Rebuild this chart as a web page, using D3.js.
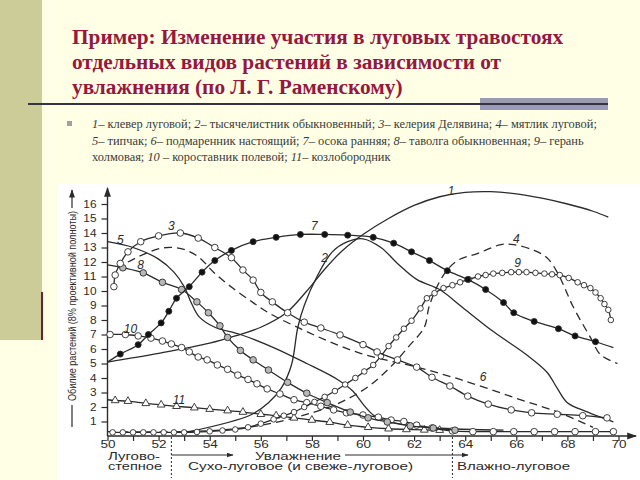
<!DOCTYPE html>
<html><head><meta charset="utf-8">
<script src="https://cdn.jsdelivr.net/npm/d3@7"></script>
<style>body{margin:0;background:#FFFFE6;overflow:hidden} svg{display:block}</style>
</head><body><svg id="c" width="640" height="480"></svg>
<script>
// ---------- texts ----------
const titleLines = [
  "Пример: Изменение участия в луговых травостоях",
  "отдельных видов растений в зависимости от",
  "увлажнения (по Л. Г. Раменскому)"
];
const legendLines = [
  [["1–",1],[" клевер луговой; ",0],["2–",1],[" тысячелистник обыкновенный; ",0],["3–",1],[" келерия Делявина; ",0],["4–",1],[" мятлик луговой;",0]],
  [["5–",1],[" типчак; ",0],["6–",1],[" подмаренник настоящий; ",0],["7–",1],[" осока ранняя; ",0],["8–",1],[" таволга обыкновенная; ",0],["9–",1],[" герань",0]],
  [["холмовая; ",0],["10",1],[" – короставник полевой; ",0],["11–",1],[" козлобородник",0]]
];
const yAxisTitle = "Обилие растений (8% проективной полноты)";
const xAxisTitle = "Увлажнение";
const zoneLabels = ["Лугово-", "степное", "Сухо-луговое (и свеже-луговое)", "Влажно-луговое"];
const zoneBounds = [52.5, 63.5];

// ---------- ticks ----------
const xTickLabels = [50,52,54,56,58,60,62,64,66,68,70];
const xMinorTicks = d3.range(50, 71, 1);
const yTickLabels = [1,2,3,4,5,6,7,8,9,10,11,12,13,14,15,16];

// ---------- series (x = moisture step, y = abundance); 3rd value 0 = no marker ----------
const s1 = [[50,5.1],[52,5.7],[54,6.4],[55,6.9],[56,7.5],[57,8.5],[57.8,10],[58.5,11.5],[59.2,12.8],[60,13.9],[61,15.0],[62,15.9],[63,16.5],[64,16.8],[65,16.85],[66,16.7],[67,16.4],[68,16.0],[69,15.5],[69.6,15.1]];
const s2 = [[53.2,0.3],[55.6,1.45],[56.3,2.3],[56.8,3.3],[57.2,4.9],[57.45,7.5],[57.7,9.0],[58.2,11.0],[58.8,12.7],[59.4,13.4],[60.0,13.6],[60.7,13.0],[61.35,11.9],[62.1,10.8],[63.0,10.1],[63.8,9.0],[65.1,7.2],[66.4,5.6],[67.2,4.4],[67.6,3.3],[68.0,2.3],[68.8,1.65],[69.8,0.97]];
const s3 = [[50.25,10.3],[50.3,11.1],[50.5,11.9],[50.8,12.7],[51.3,13.4],[52.0,13.8],[52.85,14.0],[53.55,13.65],[54.2,13.0],[54.85,12.3],[55.3,11.45],[55.7,10.75],[56.0,9.9],[56.45,9.25],[57.05,8.5],[57.7,7.85],[58.35,7.45],[59.1,6.97],[60.0,6.3],[60.55,5.8],[61.35,5.25],[62.1,4.75],[62.7,4.05],[63.4,3.45],[64.1,2.75],[64.9,2.2],[65.8,1.8],[66.6,1.6],[67.6,1.5],[68.6,1.4],[69.55,1.25]];
const s4 = [[50,0.3],[53,0.3],[55,0.5],[56.5,0.9],[58,1.6],[59.1,2.3],[60.2,3.4],[61.1,4.8],[61.8,6.2],[62.4,7.5],[62.6,9.0],[63.15,11.1],[63.7,12.1],[64.5,12.6],[65.4,13.2],[65.9,13.2],[66.7,12.8],[67.2,12.3],[67.6,11.3],[67.85,10.4],[68.2,9.0],[68.9,6.8],[69.3,5.6],[69.96,5.0]];
const s5 = [[50,13.4],[51,13.0],[52,12.2],[52.6,11.3],[53,10.3],[53.3,9.1],[53.6,8.2],[54.2,7.5],[55.2,7.0],[56.5,6.1],[57.8,5.0],[59,3.9],[59.6,3.1],[60,2.2],[60.4,1.45],[61,1.0],[62,0.7],[63.5,0.5],[65.5,0.4]];
const s6 = [[50.8,12.0],[51.5,12.6],[52.1,12.95],[52.6,13.0],[53.1,12.8],[53.6,12.3],[54.15,11.3],[54.9,10.2],[55.7,9.2],[56.3,8.5],[57.55,7.4],[58.7,6.5],[59.9,5.7],[61.0,5.2],[62.0,4.8],[63.8,3.9],[66.0,2.6],[67.7,1.6],[69.0,0.6]];
const s7 = [[50,5.1,0],[50.5,5.65],[51.2,6.3],[51.6,7.0],[52.1,7.8],[52.4,8.6],[52.7,9.5],[53.2,10.3],[53.7,11.3],[54.2,12.1],[54.85,12.8],[55.7,13.4],[56.6,13.7],[57.55,13.9],[58.5,13.9],[59.4,13.85],[60.4,13.7],[61.2,13.3],[61.9,12.7],[62.6,12.1],[63.3,11.4],[64.1,10.8],[64.8,10.1],[65.5,9.2],[65.9,8.5],[66.7,7.9],[67.65,7.4],[68.3,6.9],[69.1,6.5],[69.8,6.1,0]];
const s8 = [[50,11.8,0],[50.6,11.6],[51.4,11.25],[52.15,10.6],[52.9,10.1],[53.5,9.25],[53.95,8.5],[54.4,7.6],[54.7,6.8],[55.2,5.9],[55.7,5.25],[56.3,4.55],[57.05,3.7],[57.8,2.95],[58.6,2.3],[59.5,1.65],[60.2,1.25],[60.95,0.97],[61.85,0.7],[62.75,0.55],[63.6,0.4]];
const s9 = [[50.2,0.25],[50.6,0.25],[51.0,0.25],[51.4,0.25],[51.8,0.25],[52.2,0.25],[52.6,0.25],[53.0,0.25],[53.5,0.28],[54.0,0.32],[54.5,0.38],[55.0,0.45],[55.5,0.6],[56.0,0.85],[56.5,1.15],[56.9,1.4],[57.3,1.65],[57.7,2.0],[58.1,2.35],[58.5,2.7],[58.9,3.1],[59.3,3.55],[59.7,4.0],[60.05,4.45],[60.4,4.9],[60.7,5.5],[61.0,6.2],[61.3,6.8],[61.6,7.4],[61.9,7.95],[62.25,8.8],[62.5,9.5],[62.8,9.85],[63.15,10.2],[63.5,10.4],[63.8,10.6],[64.15,10.8],[64.5,11.0],[64.8,11.1],[65.1,11.2],[65.45,11.25],[65.8,11.3],[66.1,11.3],[66.4,11.3],[66.75,11.25],[67.1,11.2],[67.4,11.15],[67.7,11.1],[68.05,10.9],[68.4,10.6],[68.65,10.4],[68.9,10.2],[69.1,9.9],[69.3,9.5],[69.45,9.1],[69.6,8.7],[69.7,8.0]];
const s10 = [[50,7.0,0],[50.1,7.0],[50.7,7.0],[51.2,6.9],[51.7,6.75],[52.15,6.55],[52.5,6.35],[52.9,6.1],[53.2,5.8],[53.55,5.45],[53.9,5.25],[54.3,4.9],[54.7,4.6],[55.1,4.2],[55.5,3.9],[55.85,3.6],[56.25,3.25],[56.75,2.9],[57.3,2.5],[57.8,2.3],[58.35,2.05],[58.85,1.8],[59.35,1.6],[60.0,1.45],[60.6,1.3],[61.1,1.1],[61.6,1.0],[62.1,0.75],[62.7,0.55],[63.5,0.35],[64.3,0.3],[65.1,0.3],[65.9,0.3],[66.7,0.3],[67.5,0.3],[68.3,0.3],[69.1,0.3],[69.8,0.3]];
const s11 = [[50,2.5,0],[50.3,2.45],[50.8,2.4],[51.5,2.25],[52.1,2.15],[52.7,2.05],[53.4,1.95],[54.0,1.85],[54.7,1.75],[55.3,1.65],[56.0,1.5],[56.6,1.4],[57.3,1.25],[58.0,1.1],[58.7,0.95],[59.4,0.75],[60.2,0.6],[61.0,0.5],[61.7,0.45],[62.4,0.42],[63.0,0.4]];

const curveLabels = [["1",63.45,16.9],["2",58.5,12.3],["3",52.5,14.5],["4",66.0,13.6],["5",50.5,13.5],["6",64.7,4.1],["7",58.1,14.5],["8",51.3,11.8],["9",66.05,11.9],["10",50.9,7.4],["11",52.8,2.5]];

// ---------- drawing ----------
const svg = d3.select("#c");
const W = 640, H = 480;
svg.append("rect").attr("width",W).attr("height",H).attr("fill","#FFFFE6");
svg.append("rect").attr("x",0).attr("y",0).attr("width",42).attr("height",340).attr("fill","#CCCC99");
svg.append("rect").attr("x",41).attr("y",292).attr("width",2).attr("height",48).attr("fill","#6B1F2F");

// title
svg.append("g").selectAll("text").data(titleLines).join("text")
  .attr("x",72).attr("y",(d,i)=>44+i*25)
  .attr("font-family","'Liberation Serif','Times New Roman',serif")
  .attr("font-weight","bold").attr("font-size",21.3).attr("fill","#96183F")
  .text(d=>d);
svg.append("rect").attr("x",480).attr("y",98).attr("width",128).attr("height",12).attr("fill","#9A9AB4");
svg.append("rect").attr("x",28).attr("y",103).attr("width",580).attr("height",2).attr("fill","#333344");

// legend text
svg.append("rect").attr("x",67).attr("y",121).attr("width",5).attr("height",5).attr("fill","#A0A0A0");
const lg = svg.append("g").attr("font-family","'Liberation Serif','Times New Roman',serif").attr("font-size",12.4).attr("fill","#3a3a3a");
legendLines.forEach((segs,i)=>{
  const t = lg.append("text").attr("x",92).attr("y",128+i*16.5);
  segs.forEach(s=>t.append("tspan").attr("font-style",s[1]?"italic":"normal").text(s[0]));
});

// chart background
svg.append("rect").attr("x",58).attr("y",184).attr("width",582).attr("height",296).attr("fill","#FFFFFF");

const x = d3.scaleLinear().domain([50,70]).range([107.5,618.5]);
const y = d3.scaleLinear().domain([0,16]).range([436,204]);
const ink = "#2b2b2b";
const sans = "'Liberation Sans',Arial,sans-serif";

const defs = svg.append("defs");
defs.append("marker").attr("id","arr").attr("viewBox","0 0 10 10").attr("refX",9).attr("refY",5)
  .attr("markerWidth",7).attr("markerHeight",7).attr("orient","auto-start-reverse")
  .append("path").attr("d","M0,1.5L10,5L0,8.5Z").attr("fill",ink);

const g = svg.append("g").attr("font-family",sans).attr("fill",ink);

// axes
const yAxis = d3.axisLeft(y).tickValues(yTickLabels).tickSize(6).tickPadding(5).tickFormat(d3.format("d"));
const ya = g.append("g").attr("transform",`translate(${x(50)},0)`).call(yAxis);
ya.select(".domain").remove();
ya.selectAll("line").attr("stroke",ink).attr("stroke-width",1.2);
ya.selectAll("text").attr("font-size",10.5).attr("fill",ink).attr("font-family",sans)
  .attr("textLength",d=>String(d).length*6.6).attr("lengthAdjust","spacingAndGlyphs");

const xAxis = d3.axisBottom(x).tickValues(xMinorTicks).tickSize(5).tickPadding(0)
  .tickFormat(d => xTickLabels.includes(d) ? d : "");
const xa = g.append("g").attr("transform",`translate(0,${y(0)})`).call(xAxis);
xa.select(".domain").remove();
xa.selectAll("line").attr("stroke",ink).attr("stroke-width",1.2);
xa.selectAll("text").attr("font-size",10).attr("fill",ink).attr("font-family",sans)
  .attr("textLength",d=>xTickLabels.includes(d)?15:null).attr("lengthAdjust","spacingAndGlyphs");

g.append("line").attr("x1",x(50)).attr("y1",y(0)).attr("x2",x(50)).attr("y2",188)
  .attr("stroke",ink).attr("stroke-width",1.4).attr("marker-end","url(#arr)");
g.append("line").attr("x1",x(50)).attr("y1",y(0)).attr("x2",636).attr("y2",y(0))
  .attr("stroke",ink).attr("stroke-width",1.4).attr("marker-end","url(#arr)");

// y axis title
const yt = g.append("g").attr("transform","translate(72,0)");
yt.append("line").attr("x1",0).attr("x2",0).attr("y1",427).attr("y2",405).attr("stroke",ink).attr("stroke-width",1.2);
yt.append("line").attr("x1",0).attr("x2",0).attr("y1",208).attr("y2",190).attr("stroke",ink).attr("stroke-width",1.2).attr("marker-end","url(#arr)");
yt.append("text").attr("transform","translate(4,401) rotate(-90)").attr("font-size",11)
  .attr("textLength",190).attr("lengthAdjust","spacingAndGlyphs").text(yAxisTitle);

// zone separators
zoneBounds.forEach(b=>{
  g.append("line").attr("x1",x(b)).attr("x2",x(b)).attr("y1",y(0)+1).attr("y2",478)
    .attr("stroke",ink).attr("stroke-width",1).attr("stroke-dasharray","2,2");
});
g.append("line").attr("x1",x(zoneBounds[0])).attr("x2",233).attr("y1",455).attr("y2",455).attr("stroke",ink).attr("stroke-width",1).attr("marker-end","url(#arr)");
g.append("line").attr("x1",345).attr("x2",468).attr("y1",455).attr("y2",455).attr("stroke",ink).attr("stroke-width",1).attr("marker-end","url(#arr)");
const zt = g.append("g").attr("font-size",10);
zt.append("text").attr("x",255).attr("y",460).attr("textLength",86).attr("lengthAdjust","spacingAndGlyphs").text(xAxisTitle);
zt.append("text").attr("x",108).attr("y",460).attr("textLength",52).attr("lengthAdjust","spacingAndGlyphs").text(zoneLabels[0]);
zt.append("text").attr("x",108).attr("y",470).attr("textLength",54).attr("lengthAdjust","spacingAndGlyphs").text(zoneLabels[1]);
zt.append("text").attr("x",188).attr("y",470).attr("textLength",225).attr("lengthAdjust","spacingAndGlyphs").text(zoneLabels[2]);
zt.append("text").attr("x",457).attr("y",470).attr("textLength",113).attr("lengthAdjust","spacingAndGlyphs").text(zoneLabels[3]);

// series
const line = d3.line().x(d=>x(d[0])).y(d=>y(d[1])).curve(d3.curveCatmullRom.alpha(0.5));
const series = [
  {d:s1, dash:null, m:null},
  {d:s2, dash:null, m:null},
  {d:s4, dash:"8,5", m:null},
  {d:s6, dash:"8,5", m:null},
  {d:s5, dash:null, m:null},
  {d:s11, dash:null, m:"tri"},
  {d:s10, dash:null, m:"open"},
  {d:s8, dash:null, m:"gray"},
  {d:s9, dash:null, m:"small"},
  {d:s3, dash:null, m:"open"},
  {d:s7, dash:null, m:"black"}
];
const cg = svg.append("g");
series.forEach(s=>{
  cg.append("path").attr("d",line(s.d)).attr("fill","none").attr("stroke",ink)
    .attr("stroke-width",1.3).attr("stroke-dasharray",s.dash);
  if(!s.m) return;
  const pts = s.d.filter(p=>p[2]!==0);
  if(s.m==="tri"){
    cg.selectAll(null).data(pts).join("path")
      .attr("d",d3.symbol(d3.symbolTriangle,26)())
      .attr("transform",p=>`translate(${x(p[0])},${y(p[1])})`)
      .attr("fill","#fff").attr("stroke",ink).attr("stroke-width",0.9);
  } else {
    const st = {open:[3.3,"#fff"],gray:[3.3,"#b8b8b8"],small:[2.8,"#fff"],black:[3.0,"#111"]}[s.m];
    cg.selectAll(null).data(pts).join("circle")
      .attr("cx",p=>x(p[0])).attr("cy",p=>y(p[1])).attr("r",st[0])
      .attr("fill",st[1]).attr("stroke",ink).attr("stroke-width",0.9);
  }
});

// curve labels
svg.append("g").attr("font-family",sans).attr("font-style","italic")
  .attr("font-size",12).attr("fill",ink).attr("text-anchor","middle")
  .selectAll("text").data(curveLabels).join("text")
  .attr("x",d=>x(d[1])).attr("y",d=>y(d[2])+4).text(d=>d[0]);
</script></body></html>
